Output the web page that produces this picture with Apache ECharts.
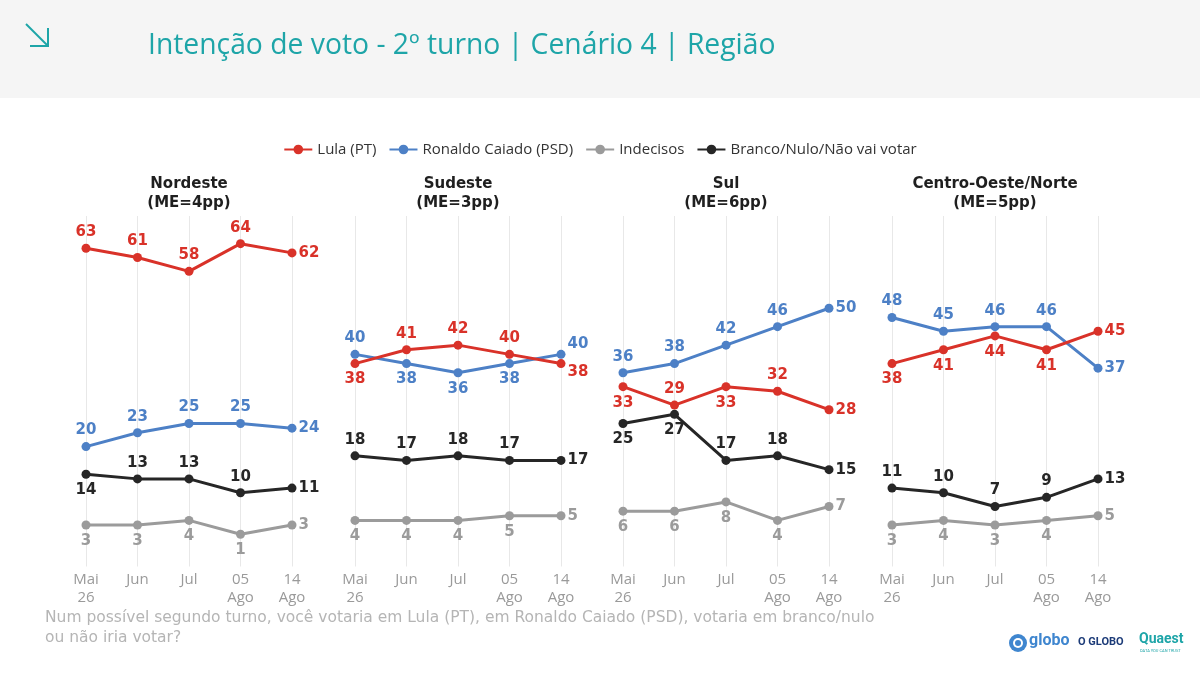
<!DOCTYPE html>
<html>
<head>
<meta charset="utf-8">
<script src="https://cdn.jsdelivr.net/npm/echarts@6/dist/echarts.min.js"></script>
<style>
html,body{margin:0;padding:0;background:#fff;}
#c{width:1200px;height:676px;}
</style>
</head>
<body>
<div id="c"></div>
<script>
// ---- DATA ----
const categories = ['Mai\n26', 'Jun', 'Jul', '05\nAgo', '14\nAgo'];
const regions = ['Nordeste', 'Sudeste', 'Sul', 'Centro-Oeste/Norte'];
const margins = ['(ME=4pp)', '(ME=3pp)', '(ME=6pp)', '(ME=5pp)'];
const seriesNames = ['Lula (PT)', 'Ronaldo Caiado (PSD)', 'Indecisos', 'Branco/Nulo/Não vai votar'];

const lulaNordeste = [63, 61, 58, 64, 62];
const caiadoNordeste = [20, 23, 25, 25, 24];
const indecisosNordeste = [3, 3, 4, 1, 3];
const brancoNordeste = [14, 13, 13, 10, 11];

const lulaSudeste = [38, 41, 42, 40, 38];
const caiadoSudeste = [40, 38, 36, 38, 40];
const indecisosSudeste = [4, 4, 4, 5, 5];
const brancoSudeste = [18, 17, 18, 17, 17];

const lulaSul = [33, 29, 33, 32, 28];
const caiadoSul = [36, 38, 42, 46, 50];
const indecisosSul = [6, 6, 8, 4, 7];
const brancoSul = [25, 27, 17, 18, 15];

const lulaCentro = [38, 41, 44, 41, 45];
const caiadoCentro = [48, 45, 46, 46, 37];
const indecisosCentro = [3, 4, 3, 4, 5];
const brancoCentro = [11, 10, 7, 9, 13];

const panelData = [
  [lulaNordeste, caiadoNordeste, indecisosNordeste, brancoNordeste],
  [lulaSudeste, caiadoSudeste, indecisosSudeste, brancoSudeste],
  [lulaSul, caiadoSul, indecisosSul, brancoSul],
  [lulaCentro, caiadoCentro, indecisosCentro, brancoCentro]
];

// ---- STYLE / LAYOUT ----
const colors = ['#d93229', '#4d80c6', '#9b9b9b', '#262626'];
const gridLefts = [86, 355, 623, 892];
const gridWidth = 206;
// label placement per panel, per series, per point: t=top b=bottom r=right, ru=right-up, rd=right-down
const labelPos = [
  [['t','t','t','t','r'], ['t','t','t','t','r'], ['b','b','b','b','r'], ['b','t','t','t','r']],
  [['b','t','t','t','rd'], ['t','b','b','b','ru'], ['b','b','b','b','r'], ['t','t','t','t','r']],
  [['b','t','b','t','r'], ['t','t','t','t','r'], ['b','b','b','b','r'], ['b','b','t','t','r']],
  [['b','b','b','b','r'], ['t','t','t','t','r'], ['b','b','b','b','r'], ['t','t','t','t','r']]
];
const FONT = '"Open Sans", sans-serif';
const WIDE = '"DejaVu Sans", sans-serif';

function labelFor(code) {
  if (code === 't') return {position: 'top', distance: 4};
  if (code === 'b') return {position: 'bottom', distance: 4};
  if (code === 'r') return {position: 'right', distance: 2};
  if (code === 'ru') return {position: 'right', distance: 2, offset: [0, -10]};
  if (code === 'rd') return {position: 'right', distance: 2, offset: [0, 9]};
}

const grids = [], xAxes = [], yAxes = [], series = [], titles = [];
titles.push({
  text: 'Intenção de voto - 2º turno | Cenário 4 | Região',
  left: 148, top: 32, padding: 0,
  textStyle: {color: '#1ea5a8', fontSize: 28.3, fontWeight: 'normal', fontFamily: FONT}
});
for (let p = 0; p < 4; p++) {
  grids.push({left: gridLefts[p], width: gridWidth, top: 216, bottom: 109.5, containLabel: false});
  xAxes.push({
    type: 'category', gridIndex: p, data: categories, boundaryGap: false,
    axisLine: {show: false}, axisTick: {show: false},
    axisLabel: {color: '#9a9a9a', fontSize: 15, lineHeight: 18, margin: 4, fontFamily: FONT},
    splitLine: {show: true, lineStyle: {color: '#e8e8e8', width: 1}}
  });
  yAxes.push({type: 'value', gridIndex: p, min: -6, max: 70, show: false, splitLine: {show: false}});
  titles.push({
    text: regions[p] + '\n' + margins[p],
    left: gridLefts[p] + gridWidth / 2, top: 175, textAlign: 'center', padding: 0,
    textStyle: {color: '#1f1f1f', fontSize: 15, fontWeight: 'bold', lineHeight: 19, fontFamily: WIDE}
  });
  const order = [2, 3, 1, 0];
  order.forEach(s => {
    const vals = panelData[p][s];
    series.push({
      name: seriesNames[s], type: 'line', xAxisIndex: p, yAxisIndex: p,
      data: vals.map((v, i) => ({value: v, label: labelFor(labelPos[p][s][i])})),
      color: colors[s],
      lineStyle: {width: 3, color: colors[s]},
      symbol: 'circle', symbolSize: 9,
      itemStyle: {color: colors[s]},
      label: {show: true, color: colors[s], fontSize: 15, fontWeight: 'bold', fontFamily: WIDE},
      emphasis: {disabled: true},
      animation: false, z: 3
    });
  });
}

const chart = echarts.init(document.getElementById('c'));
chart.setOption({
  backgroundColor: '#ffffff',
  animation: false,
  title: titles,
  legend: {
    data: seriesNames, top: 137, left: 'center', itemWidth: 28, itemHeight: 12, itemGap: 12,
    textStyle: {color: '#333', fontSize: 15, fontFamily: FONT}
  },
  grid: grids, xAxis: xAxes, yAxis: yAxes, series: series,
  graphic: [
    {type: 'rect', shape: {x: 0, y: 0, width: 1200, height: 98}, style: {fill: '#f5f5f5'}, z: -10, silent: true},
    {type: 'line', shape: {x1: 26, y1: 24, x2: 48, y2: 46}, style: {stroke: '#1ea5a8', lineWidth: 2}},
    {type: 'polyline', shape: {points: [[30, 46], [48, 46], [48, 28]]}, style: {stroke: '#1ea5a8', lineWidth: 2, fill: null}},
    {type: 'text', left: 45, top: 608, style: {text: 'Num possível segundo turno, você votaria em Lula (PT), em Ronaldo Caiado (PSD), votaria em branco/nulo\nou não iria votar?', fill: '#b5b5b5', fontSize: 15.5, lineHeight: 20, fontFamily: WIDE}},
    {type: 'circle', shape: {cx: 1018, cy: 643, r: 9}, style: {fill: '#3f86cf'}},
    {type: 'circle', shape: {cx: 1018, cy: 643, r: 5}, style: {fill: '#fff'}},
    {type: 'circle', shape: {cx: 1018, cy: 643, r: 3}, style: {fill: '#3f86cf'}},
    {type: 'text', left: 1029, top: 633, style: {text: 'globo', fill: '#3f86cf', fontSize: 16, fontWeight: 'bold', fontFamily: 'Roboto, sans-serif'}},
    {type: 'text', left: 1078, top: 637, style: {text: 'O GLOBO', fill: '#1c3b78', fontSize: 11, fontWeight: 'bold', fontFamily: 'Roboto, sans-serif'}},
    {type: 'text', left: 1139, top: 632, style: {text: 'Quaest', fill: '#1ea5a8', fontSize: 14, fontWeight: 'bold', fontFamily: 'Roboto, sans-serif'}},
    {type: 'text', left: 1140, top: 649, style: {text: 'DATA YOU CAN TRUST', fill: '#1ea5a8', fontSize: 4, fontFamily: 'Roboto, sans-serif'}}
  ]
});
</script>
</body>
</html>
